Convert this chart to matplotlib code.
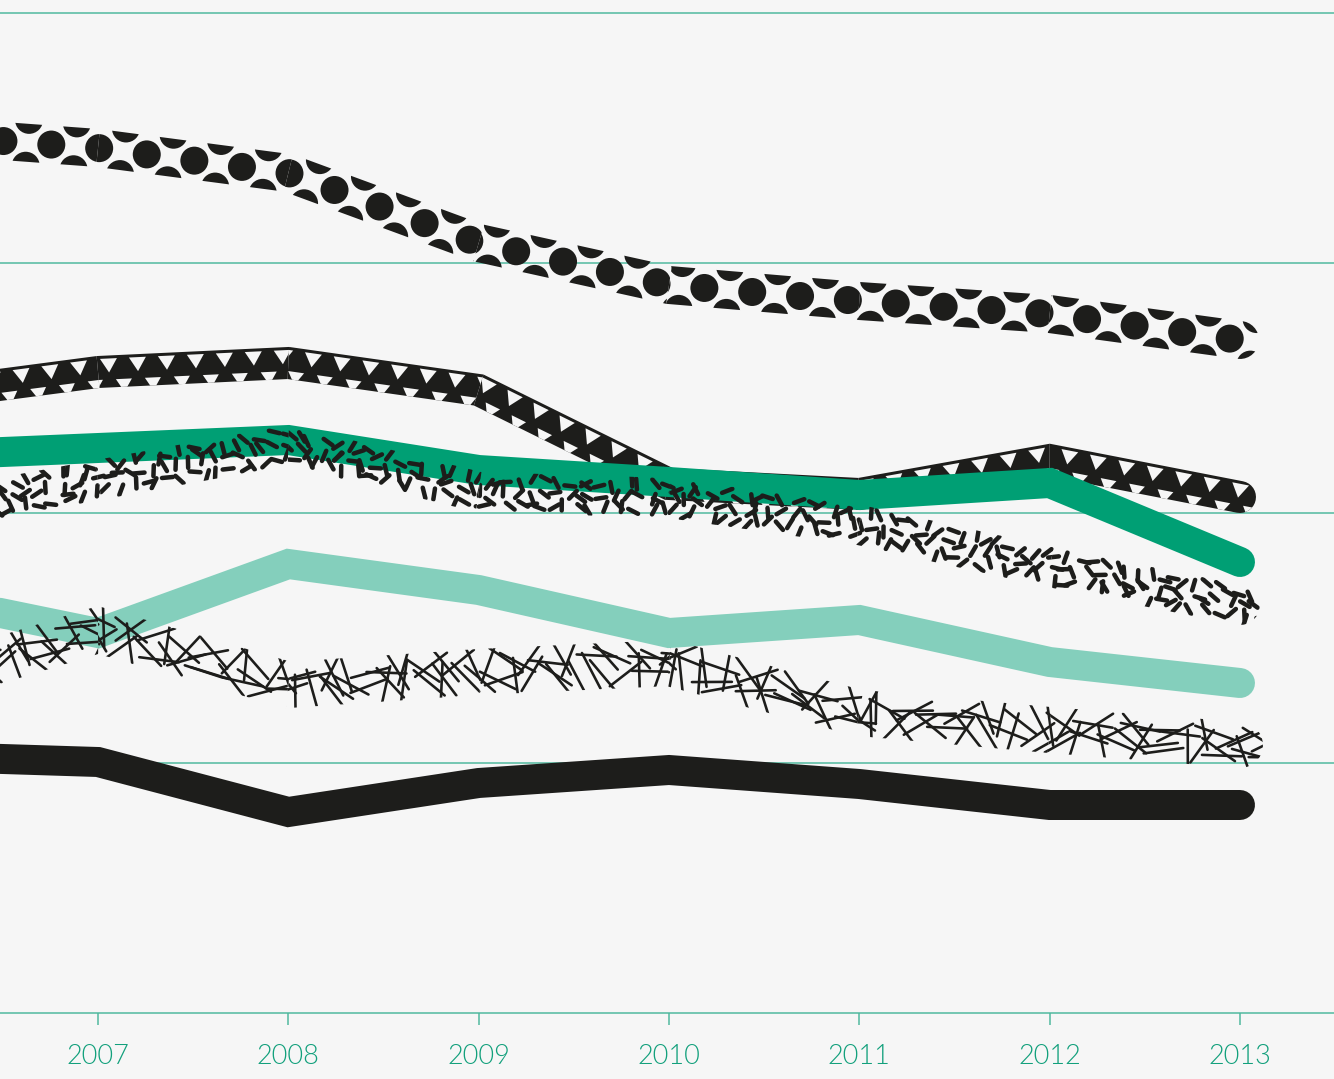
import numpy as np
import matplotlib.pyplot as plt
from matplotlib.patches import Polygon, Circle
from matplotlib.collections import PatchCollection, LineCollection
from matplotlib.transforms import IdentityTransform

# data (grid step = 5)
years = [2006, 2007, 2008, 2009, 2010, 2011, 2012, 2013]
dots_line = [17.58, 17.30, 16.80, 15.40, 14.56, 14.24, 13.98, 13.46]
triangle_line = [12.32, 12.82, 13.00, 12.46, 10.58, 10.38, 11.06, 10.32]
green_line = [11.14, 11.30, 11.46, 10.86, 10.62, 10.36, 10.60, 9.02]
dash_line = [9.96, 10.66, 11.36, 10.42, 10.30, 9.76, 8.92, 8.16]
light_line = [8.38, 7.60, 8.98, 8.46, 7.60, 7.86, 7.02, 6.60]
cross_line = [6.50, 7.66, 6.56, 6.82, 7.00, 6.00, 5.66, 5.36]
black_line = [5.14, 5.02, 4.02, 4.60, 4.86, 4.58, 4.16, 4.16]
tick_years = [2007, 2008, 2009, 2010, 2011, 2012, 2013]
grid_values = [0, 5, 10, 15, 20]

BG = "#f6f6f6"
GRID = "#4db89d"
LABEL = "#12a07c"
GREEN = "#009f74"
LIGHT = "#84cfbc"
INK = "#1d1d1b"

W, H, DPI = 1334, 1079, 100
PX = 72 / DPI  # points per pixel

fig = plt.figure(figsize=(W / DPI, H / DPI), dpi=DPI, facecolor=BG)
ax = fig.add_axes([0, 66 / H, 1, 1000 / H])
ax.set_facecolor(BG)
ax.set_xlim(2006.485, 2013.494)
ax.set_ylim(0, 20)
for s in ax.spines.values():
    s.set_visible(False)

for v in grid_values:
    ax.axhline(v, color=GRID, lw=1.5 * PX, zorder=0.5, clip_on=False)

ax.set_yticks([])
ax.set_xticks(tick_years)
ax.set_xticklabels([str(y) for y in tick_years], fontfamily="Lato",
                   fontweight=300, fontsize=19.5, color=LABEL)
ax.tick_params(axis="x", length=12 * PX, width=1.5 * PX, color=GRID,
               pad=14, direction="out")

ident = IdentityTransform()


def noise(j, salt):
    # deterministic hash in [0, 1) for the texture
    x = np.sin(j * 12.9898 + salt * 78.233) * 43758.5453
    return x - np.floor(x)


def band_pieces(vals, half):
    # split the stroke into per-segment quads (miter joins, round end cap)
    pts = ax.transData.transform(np.column_stack([years, vals]))
    seg = np.diff(pts, axis=0)
    lens = np.hypot(seg[:, 0], seg[:, 1])
    d = seg / lens[:, None]
    n = np.column_stack([-d[:, 1], d[:, 0]])
    m = np.empty_like(pts)
    m[0], m[-1] = n[0], n[-1]
    for i in range(1, len(pts) - 1):
        a = n[i - 1] + n[i]
        a = a / np.hypot(*a)
        m[i] = a / np.dot(a, n[i])
    starts = np.concatenate([[0], np.cumsum(lens)])
    pieces = []
    for i in range(len(seg)):
        quad = [pts[i] + m[i] * half, pts[i + 1] + m[i + 1] * half]
        ext = 0
        if i == len(seg) - 1:
            for a in np.linspace(np.pi / 2, -np.pi / 2, 17):
                quad.append(pts[-1] + half * (np.cos(a) * d[i] + np.sin(a) * n[i]))
            ext = half
        quad += [pts[i + 1] - m[i + 1] * half, pts[i] - m[i] * half]
        pieces.append(dict(p0=pts[i], d=d[i], n=n[i], s0=starts[i],
                           s1=starts[i + 1] + ext, quad=np.array(quad)))
    return pieces


def local(pc, s, t):
    return pc["p0"] + (s - pc["s0"]) * pc["d"] + t * pc["n"]


def add_clipped(coll, pc):
    ax.add_collection(coll, autolim=False)
    coll.set_clip_path(Polygon(pc["quad"], closed=True, transform=ident))


def k_range(pc, step):
    return range(int((pc["s0"] - 50) // step), int((pc["s1"] + 50) // step) + 1)


def draw_dots(vals, z):
    step = 24
    for pc in band_pieces(vals, 19):
        circles = []
        for k in k_range(pc, step):
            ts = [0] if k % 2 == 0 else [23, -23]
            for t in ts:
                circles.append(Circle(local(pc, k * step, t), 14))
        coll = PatchCollection(circles, facecolor=INK, edgecolor="none",
                               transform=ident, zorder=z)
        add_clipped(coll, pc)


def draw_triangles(vals, z):
    # black band with light downward triangles
    period = 29
    for pc in band_pieces(vals, 16):
        band = Polygon(pc["quad"], closed=True, facecolor=INK, edgecolor="none",
                       transform=ident, zorder=z)
        ax.add_patch(band)
        tris = []
        for k in k_range(pc, period):
            s = k * period
            tris.append(Polygon([local(pc, s - 8.5, 13), local(pc, s + 8.5, 13),
                                 local(pc, s, -1)], closed=True))
            s2 = s + period / 2
            tris.append(Polygon([local(pc, s2 - 8, -8), local(pc, s2 + 8, -8),
                                 local(pc, s2, -21)], closed=True))
        coll = PatchCollection(tris, facecolor=BG, edgecolor="none",
                               transform=ident, zorder=z + 0.01)
        add_clipped(coll, pc)


def draw_strokes(vals, z, half, step, rows, length, width, salt):
    for pc in band_pieces(vals, half):
        segs = []
        for k in k_range(pc, step):
            for r, t0 in enumerate(rows):
                j = (k + 500) * len(rows) + r
                s = k * step + (noise(j, salt) - 0.5) * step
                t = t0 + (noise(j, salt + 1) - 0.5) * 8
                a = noise(j, salt + 2) * np.pi
                c = local(pc, s, t)
                u = (np.cos(a) * pc["d"] + np.sin(a) * pc["n"]) * length / 2
                segs.append([c - u, c + u])
        coll = LineCollection(segs, colors=INK, linewidths=width * PX,
                              capstyle="round", transform=ident, zorder=z)
        add_clipped(coll, pc)


def draw_solid(vals, color, z):
    ax.plot(years, vals, color=color, lw=30 * PX, solid_capstyle="round",
            solid_joinstyle="miter", zorder=z)


draw_dots(dots_line, 2)
draw_triangles(triangle_line, 3)
draw_solid(green_line, GREEN, 4)
draw_strokes(dash_line, 5, half=20, step=12, rows=[-12, 0, 12],
             length=11, width=4.5, salt=1)
draw_solid(light_line, LIGHT, 6)
draw_strokes(cross_line, 7, half=23, step=14, rows=[-8, 8],
             length=40, width=2.6, salt=7)
draw_solid(black_line, INK, 8)

fig.savefig("out.png", dpi=DPI, facecolor=BG)
